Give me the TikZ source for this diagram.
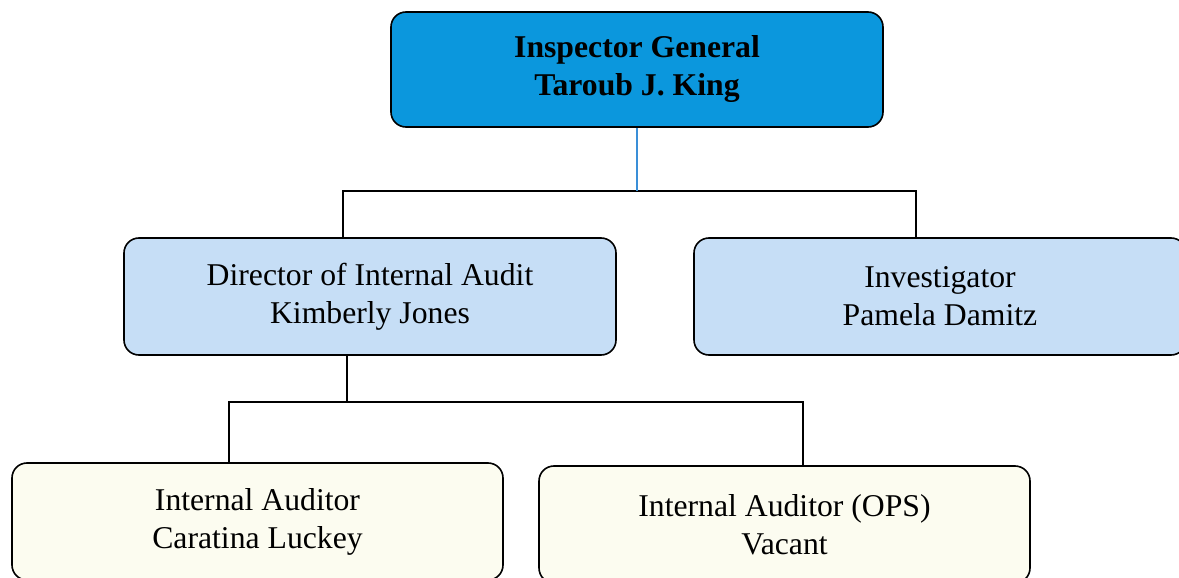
\documentclass[tikz,border=0pt]{standalone}
\usepackage{fontspec}
\setmainfont{Liberation Serif}
\definecolor{topblue}{HTML}{0B97DD}
\definecolor{midblue}{HTML}{C6DEF6}
\definecolor{pale}{HTML}{FCFCF0}
\definecolor{lineblue}{HTML}{3A8FD8}
\tikzset{
  box/.style={draw=black, line width=1.6pt, rounded corners=15pt, minimum width=492pt, align=center, inner sep=0pt, font=\fontsize{31.7}{38}\selectfont},
  link/.style={draw=black, line width=1.6pt},
}
\begin{document}
\begin{tikzpicture}[x=1pt,y=-1pt]
\useasboundingbox (0,0) rectangle (1179,578);
\node[box, fill=topblue, minimum height=115pt, font=\fontsize{31.7}{38}\selectfont\bfseries] (ig) at (637,69.5) {Inspector General\\Taroub J. King};
\node[box, fill=midblue, minimum height=117pt] (dir) at (370,296.5) {Director of Internal Audit\\Kimberly Jones};
\node[box, fill=midblue, minimum height=117pt] (inv) at (940,296.5) {Investigator\\Pamela Damitz};
\node[box, fill=pale, minimum height=117pt, minimum width=491pt] (aud) at (257.5,521.5) {Internal Auditor\\Caratina Luckey};
\node[box, fill=pale, minimum height=117pt, minimum width=491pt] (ops) at (784.5,524.5) {Internal Auditor (OPS)\\Vacant};
\coordinate (j1) at (637,191);
\coordinate (l1) at (343,191);
\coordinate (r1) at (916,191);
\coordinate (j2) at (347,402);
\coordinate (l2) at (229,402);
\coordinate (r2) at (803,402);
\draw[link] (l1 |- dir.north) -- (l1) -- (r1) -- (r1 |- inv.north);
\draw[draw=lineblue, line width=1.2pt] (ig.south) -- (j1);
\draw[link] (dir.south -| j2) -- (j2);
\draw[link] (l2 |- aud.north) -- (l2) -- (r2) -- (r2 |- ops.north);
\end{tikzpicture}
\end{document}
